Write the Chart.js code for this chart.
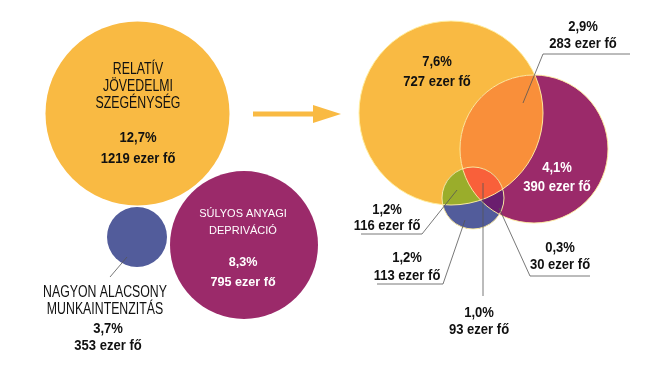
<!DOCTYPE html>
<html>
<head>
<meta charset="utf-8">
<script src="https://cdn.jsdelivr.net/npm/chart.js@4"></script>
<style>
  body { margin: 0; background: #fff; }
  #wrap { width: 669px; height: 369px; position: relative; }
</style>
</head>
<body>
<div id="wrap"><canvas id="chart"></canvas></div>
<script>
// data
const groupNames = [['RELATÍV', 'JÖVEDELMI', 'SZEGÉNYSÉG'], ['SÚLYOS ANYAGI', 'DEPRIVÁCIÓ'], ['NAGYON ALACSONY', 'MUNKAINTENZITÁS']];
const groupShares = [12.7, 8.3, 3.7];
const groupPeople = [1219, 795, 353];

const segNames = ['csak jövedelmi szegénység', 'jövedelmi szegénység + depriváció', 'csak depriváció',
  'jövedelmi szegénység + munkaintenzitás', 'csak munkaintenzitás', 'mindhárom', 'depriváció + munkaintenzitás'];
const segShares = [7.6, 2.9, 4.1, 1.2, 1.2, 1.0, 0.3];
const segPeople = [727, 283, 390, 116, 113, 93, 30];

// layout (pixel space, same as the scales)
const leftX = [137.5, 244, 137], leftY = [113.5, 245, 237], leftR = [92, 74, 30];
const vennX = [451, 534, 473], vennY = [113, 149, 198], vennR = [92, 74, 31];

const YELLOW = '#F9BA43', PURPLE = '#9B2A6A', BLUE = '#525C9B';
const ORANGE = '#F98F3A', GREEN = '#9AAD2B', RED = '#F9603A', DARKPURPLE = '#6A1E6E';
const FONT = '"Liberation Sans", Arial, sans-serif';

const fmtShare = v => v.toFixed(1).replace('.', ',') + '%';
const fmtPeople = v => v + ' ezer fő';

const groupLabels = [
  { x: 138, y: 70, gap: 17, names: groupNames[0], color: '#111', size: 16, sq: 0.77, vsize: 15, vsq: 0.87, vy: 138, vgap: 21 },
  { x: 243, y: 214, gap: 17, names: groupNames[1], color: '#fff', size: 11, sq: 1, vsize: 13, vsq: 0.97, vy: 262, vgap: 20 },
  { x: 105, y: 293, gap: 17, names: groupNames[2], color: '#111', size: 16, sq: 0.77, vsize: 15, vsq: 0.87, vy: 329, vgap: 17, vx: 108 }
];
const segLabels = [
  { x: 437, y: 62, gap: 20, color: '#111' },
  { x: 583, y: 27, gap: 17, color: '#111' },
  { x: 557, y: 168, gap: 19, color: '#fff' },
  { x: 387, y: 210, gap: 16, color: '#111' },
  { x: 407, y: 258, gap: 18, color: '#111' },
  { x: 479, y: 313, gap: 17, color: '#111' },
  { x: 560, y: 248, gap: 17, color: '#111' }
];
const leaders = [
  [[110, 277], [127, 257]],
  [[630, 54], [543, 54], [523, 103]],
  [[361, 234], [422, 234], [457, 190]],
  [[377, 284], [443, 284], [465, 220]],
  [[483, 296], [483, 183]],
  [[590, 276], [530, 276], [499, 208]]
];

function circle(ctx, el) {
  ctx.beginPath();
  ctx.arc(el.x, el.y, el.options.radius, 0, Math.PI * 2);
}

function text(ctx, t, x, y, sq) {
  ctx.save();
  ctx.translate(x, y);
  ctx.scale(sq, 1);
  ctx.fillText(t, 0, 0);
  ctx.restore();
}

const vennPlugin = {
  id: 'venn',
  afterDatasetsDraw(chart) {
    const ctx = chart.ctx;
    const [y, p, b] = chart.getDatasetMeta(1).data;
    const fillClip = (clips, target, color) => {
      ctx.save();
      clips.forEach(c => { circle(ctx, c); ctx.clip(); });
      circle(ctx, target);
      ctx.fillStyle = color;
      ctx.fill();
      ctx.restore();
    };
    fillClip([y], p, ORANGE);
    fillClip([], b, BLUE);
    fillClip([y], b, GREEN);
    fillClip([p], b, DARKPURPLE);
    fillClip([y, p], b, RED);
    ctx.save();
    ctx.strokeStyle = 'rgba(255,238,160,0.95)';
    ctx.lineWidth = 1;
    [y, p, b].forEach(c => { circle(ctx, c); ctx.stroke(); });
    ctx.restore();

    // arrow
    ctx.save();
    ctx.fillStyle = YELLOW;
    ctx.fillRect(253, 111.5, 62, 5);
    ctx.beginPath();
    ctx.moveTo(313, 105); ctx.lineTo(341, 114); ctx.lineTo(313, 123); ctx.closePath();
    ctx.fill();

    // leader lines
    ctx.strokeStyle = '#555';
    ctx.lineWidth = 0.8;
    leaders.forEach(pts => {
      ctx.beginPath();
      pts.forEach((pt, i) => i ? ctx.lineTo(pt[0], pt[1]) : ctx.moveTo(pt[0], pt[1]));
      ctx.stroke();
    });

    ctx.textAlign = 'center';
    ctx.textBaseline = 'middle';
    groupLabels.forEach((l, i) => {
      ctx.fillStyle = l.color;
      ctx.font = l.size + 'px ' + FONT;
      l.names.forEach((t, j) => text(ctx, t, l.x, l.y + j * l.gap, l.sq));
      ctx.font = 'bold ' + l.vsize + 'px ' + FONT;
      const vx = l.vx || l.x;
      text(ctx, fmtShare(groupShares[i]), vx, l.vy, l.vsq);
      text(ctx, fmtPeople(groupPeople[i]), vx, l.vy + l.vgap, l.vsq);
    });
    ctx.font = 'bold 15px ' + FONT;
    segLabels.forEach((l, i) => {
      ctx.fillStyle = l.color;
      text(ctx, fmtShare(segShares[i]), l.x, l.y, 0.87);
      text(ctx, fmtPeople(segPeople[i]), l.x, l.y + l.gap, 0.87);
    });
    ctx.restore();
  }
};

new Chart(document.getElementById('chart'), {
  type: 'bubble',
  data: {
    datasets: [
      {
        label: 'csoportok',
        data: groupShares.map((v, i) => ({ x: leftX[i], y: leftY[i], r: leftR[i] })),
        backgroundColor: [YELLOW, PURPLE, BLUE],
        borderWidth: 0,
        hoverRadius: 0
      },
      {
        label: 'átfedések',
        data: vennX.map((x, i) => ({ x: x, y: vennY[i], r: vennR[i] })),
        backgroundColor: [YELLOW, PURPLE, BLUE],
        borderWidth: 0,
        hoverRadius: 0
      }
    ]
  },
  options: {
    responsive: true,
    maintainAspectRatio: false,
    animation: false,
    events: [],
    layout: { padding: 0, autoPadding: false },
    clip: false,
    plugins: { legend: { display: false }, tooltip: { enabled: false } },
    scales: {
      x: { type: 'linear', min: 0, max: 669, display: false },
      y: { type: 'linear', min: 0, max: 369, reverse: true, display: false }
    }
  },
  plugins: [vennPlugin]
});
</script>
</body>
</html>
